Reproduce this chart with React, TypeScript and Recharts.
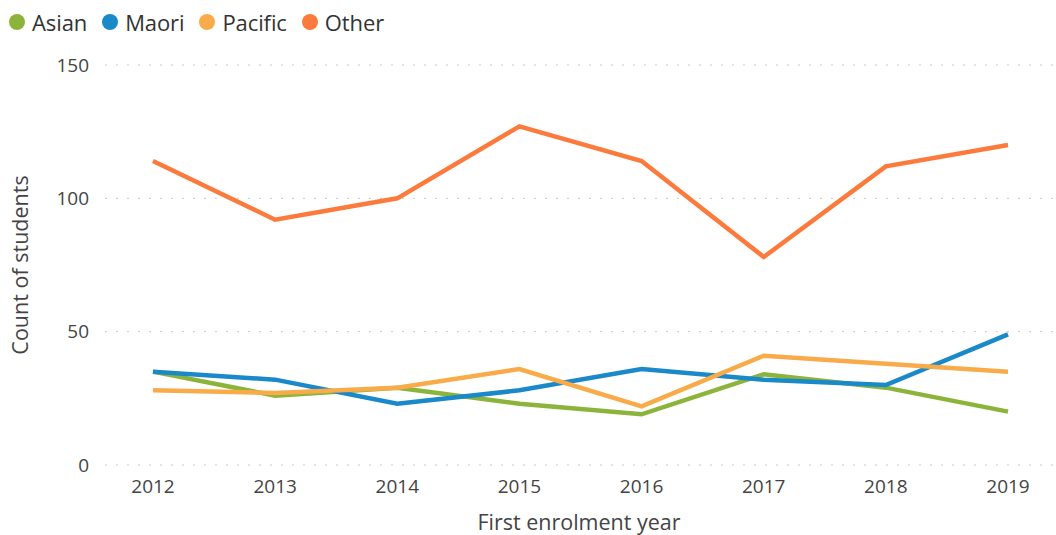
import React from 'react';
import { LineChart, Line, XAxis, YAxis, CartesianGrid, Legend } from 'recharts';

const years = ['2012', '2013', '2014', '2015', '2016', '2017', '2018', '2019'];
const asian = [35, 26, 29, 23, 19, 34, 29, 20];
const maori = [35, 32, 23, 28, 36, 32, 30, 49];
const pacific = [28, 27, 29, 36, 22, 41, 38, 35];
const other = [114, 92, 100, 127, 114, 78, 112, 120];
const yTicks = [0, 50, 100, 150];

const seriesNames = ['Asian', 'Maori', 'Pacific', 'Other'];
const seriesColors = ['#8DB43A', '#1A89C9', '#F8AB48', '#FC7B3C'];

const data = years.map((y, i) => ({
  year: y,
  Asian: asian[i],
  Maori: maori[i],
  Pacific: pacific[i],
  Other: other[i],
}));

const FONT = '"Open Sans", "Noto Sans", sans-serif';

const LegendContent = () => {
  return (
    <div style={{ height: 57, display: 'flex', alignItems: 'flex-start', fontFamily: FONT }}>
      {seriesNames.map((n, i) => (
        <div key={n} style={{ display: 'flex', alignItems: 'center', marginRight: 14, height: 28 }}>
          <span style={{ width: 16, height: 16, borderRadius: '50%', background: seriesColors[i], display: 'inline-block', marginLeft: 1, marginRight: 7 }} />
          <span style={{ fontSize: 22, color: '#333', letterSpacing: -0.1 }}>{n}</span>
        </div>
      ))}
    </div>
  );
};

export default function App() {
  return (
    <div style={{ position: 'absolute', left: 0, top: 0, width: 1056, height: 535, background: '#fff' }}>
      <LineChart width={1056} height={535} data={data} margin={{ top: 8, right: 3, bottom: 40, left: 0 }}>
        <CartesianGrid vertical={false} stroke="#c8c8c8" strokeDasharray="2 9" />
        <Legend verticalAlign="top" align="left" content={<LegendContent />} wrapperStyle={{ left: 8, top: 8 }} />
        <XAxis
          dataKey="year"
          axisLine={false}
          tickLine={false}
          height={30}
          padding={{ left: 48, right: 45 }}
          tick={{ fill: '#444', fontSize: 19, fontFamily: FONT }}
          tickMargin={9}
          label={{ value: 'First enrolment year', position: 'insideBottom', offset: -35, fill: '#444', fontSize: 21.5, fontFamily: FONT }}
        />
        <YAxis
          domain={[0, 150]}
          ticks={yTicks}
          axisLine={false}
          tickLine={false}
          width={105}
          tick={{ fill: '#444', fontSize: 19, fontFamily: FONT }}
          tickMargin={10}
          label={{ value: 'Count of students', angle: -90, position: 'insideLeft', offset: 20, fill: '#444', fontSize: 21.5, fontFamily: FONT, style: { textAnchor: 'middle' } }}
        />
        {seriesNames.map((n, i) => (
          <Line key={n} type="linear" dataKey={n} stroke={seriesColors[i]} strokeWidth={4.5} dot={false} activeDot={false} isAnimationActive={false} />
        ))}
      </LineChart>
    </div>
  );
}
